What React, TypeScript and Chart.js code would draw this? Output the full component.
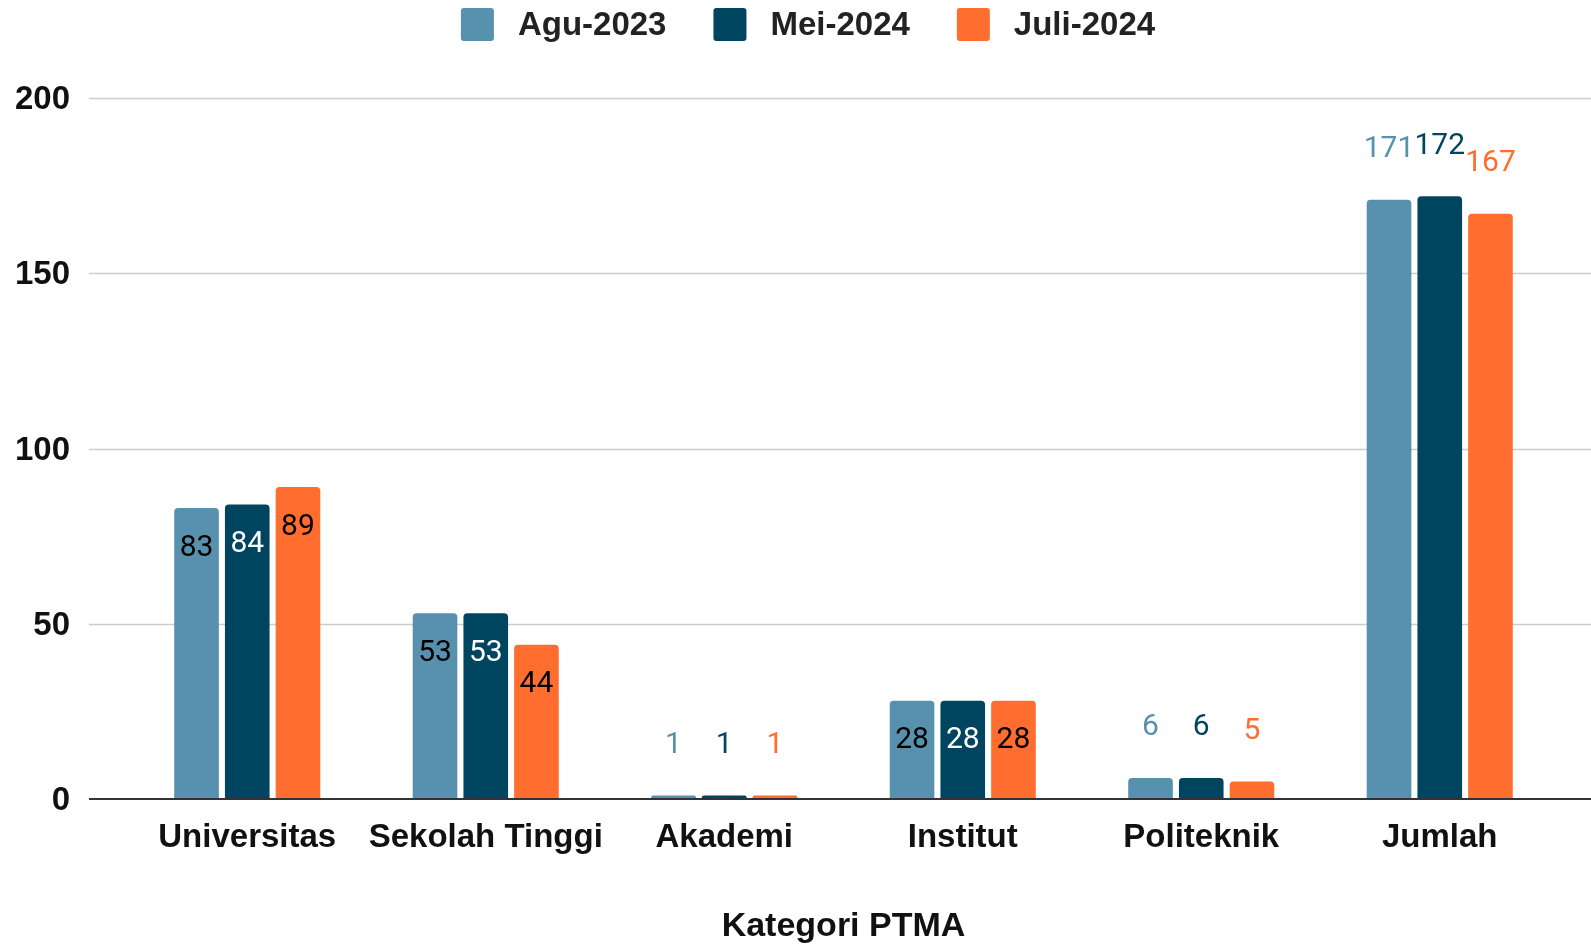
import React, { useEffect, useRef } from "react";
import { Chart, registerables } from "chart.js";

Chart.register(...registerables);

const categories = ["Universitas", "Sekolah Tinggi", "Akademi", "Institut", "Politeknik", "Jumlah"];
const seriesNames = ["Agu-2023", "Mei-2024", "Juli-2024"];
const agu2023 = [83, 53, 1, 28, 6, 171];
const mei2024 = [84, 53, 1, 28, 6, 172];
const juli2024 = [89, 44, 1, 28, 5, 167];
const yTicks = [0, 50, 100, 150, 200];
const outsideLabelCategories = ["Akademi", "Politeknik", "Jumlah"];
const xTitle = "Kategori PTMA";

const barColors = ["#5891ad", "#00455f", "#ff6d2f"];
const insideLabelColors = ["#000000", "#ffffff", "#000000"];
const outsideLabelColors = ["#5891ad", "#00455f", "#ff6d2f"];

const FONT = '"Liberation Sans", Arial, sans-serif';

const gridPlugin = {
  id: "extendedGrid",
  beforeDatasetsDraw(chart: any) {
    const { ctx } = chart;
    const y = chart.scales.y;
    ctx.save();
    for (const t of y.ticks) {
      if (t.value === 0) continue;
      const py = Math.round(y.getPixelForValue(t.value)) + 0.5;
      ctx.strokeStyle = "#cccccc";
      ctx.lineWidth = 1.5;
      ctx.beginPath();
      ctx.moveTo(89, py);
      ctx.lineTo(chart.width, py);
      ctx.stroke();
    }
    ctx.restore();
  },
  afterDatasetsDraw(chart: any) {
    const { ctx } = chart;
    const y = chart.scales.y;
    ctx.save();
    const py = y.getPixelForValue(0);
    ctx.strokeStyle = "#333333";
    ctx.lineWidth = 2;
    ctx.beginPath();
    ctx.moveTo(89, py);
    ctx.lineTo(chart.width, py);
    ctx.stroke();
    ctx.restore();
  },
};

const labelPlugin = {
  id: "valueLabels",
  afterDatasetsDraw(chart: any) {
    const { ctx } = chart;
    ctx.save();
    ctx.font = "30px Roboto";
    ctx.textAlign = "center";
    ctx.textBaseline = "middle";
    chart.data.datasets.forEach((ds: any, di: number) => {
      const meta = chart.getDatasetMeta(di);
      meta.data.forEach((bar: any, i: number) => {
        const v = ds.data[i];
        const outside = outsideLabelCategories.includes(categories[i]);
        if (outside) {
          ctx.fillStyle = outsideLabelColors[di];
          ctx.fillText(String(v), bar.x, bar.y - 50);
        } else {
          ctx.fillStyle = insideLabelColors[di];
          ctx.fillText(String(v), bar.x, bar.y + 40);
        }
      });
    });
    ctx.restore();
  },
};

const legendPlugin = {
  id: "customLegend",
  afterDraw(chart: any) {
    const { ctx } = chart;
    ctx.save();
    ctx.font = `bold 33px ${FONT}`;
    ctx.textBaseline = "middle";
    ctx.textAlign = "left";
    const box = 33;
    const gapText = 24;
    const gapItem = 47;
    const items = chart.data.datasets.map((d: any) => ({
      label: d.label,
      color: d.backgroundColor,
      w: ctx.measureText(d.label).width,
    }));
    const total =
      items.reduce((s: number, it: any) => s + box + gapText + it.w, 0) + gapItem * (items.length - 1);
    let x = 808 - total / 2;
    const cy = 24.5;
    for (const it of items) {
      ctx.fillStyle = it.color;
      ctx.beginPath();
      (ctx as any).roundRect(x, cy - box / 2, box, box, 3);
      ctx.fill();
      ctx.fillStyle = "#222222";
      ctx.fillText(it.label, x + box + gapText, cy + 1);
      x += box + gapText + it.w + gapItem;
    }
    ctx.restore();
  },
};

export default function App() {
  const ref = useRef<HTMLCanvasElement | null>(null);

  useEffect(() => {
    document.body.style.margin = "0";
    if (!ref.current) return;
    Chart.defaults.font.family = FONT;
    const seriesData = [agu2023, mei2024, juli2024];
    const chart = new Chart(ref.current, {
      type: "bar",
      data: {
        labels: categories,
        datasets: seriesNames.map((name, i) => ({
          label: name,
          data: seriesData[i],
          backgroundColor: barColors[i],
          borderRadius: { topLeft: 4, topRight: 4, bottomLeft: 0, bottomRight: 0 },
          borderSkipped: "start",
          categoryPercentage: 0.638,
          barPercentage: 0.88,
        })),
      },
      options: {
        responsive: false,
        animation: false,
        layout: { padding: { top: 98, left: 0, right: 32, bottom: 0 } },
        plugins: {
          legend: { display: false },
          tooltip: { enabled: false },
        },
        scales: {
          x: {
            grid: { display: false },
            border: { display: false },
            afterFit: (axis: any) => {
              axis.height = 148;
            },
            ticks: {
              color: "#111111",
              font: { size: 33, weight: "bold", family: FONT },
              padding: 11,
              maxRotation: 0,
              autoSkip: false,
            },
            title: {
              display: true,
              text: xTitle,
              color: "#111111",
              font: { size: 34, weight: "bold", family: FONT },
              padding: { top: 40, bottom: 0 },
            },
          },
          y: {
            min: 0,
            max: 200,
            afterBuildTicks: (axis: any) => {
              axis.ticks = yTicks.map((v) => ({ value: v }));
            },
            afterFit: (axis: any) => {
              axis.width = 128;
            },
            grid: { display: false },
            border: { display: false },
            ticks: {
              color: "#111111",
              font: { size: 33, weight: "bold", family: FONT },
              padding: 50,
              labelOffset: 2,
            },
          },
        },
      },
      plugins: [gridPlugin, labelPlugin, legendPlugin],
    });
    return () => chart.destroy();
  }, []);

  return <canvas ref={ref} width={1591} height={947} style={{ display: "block" }} />;
}
